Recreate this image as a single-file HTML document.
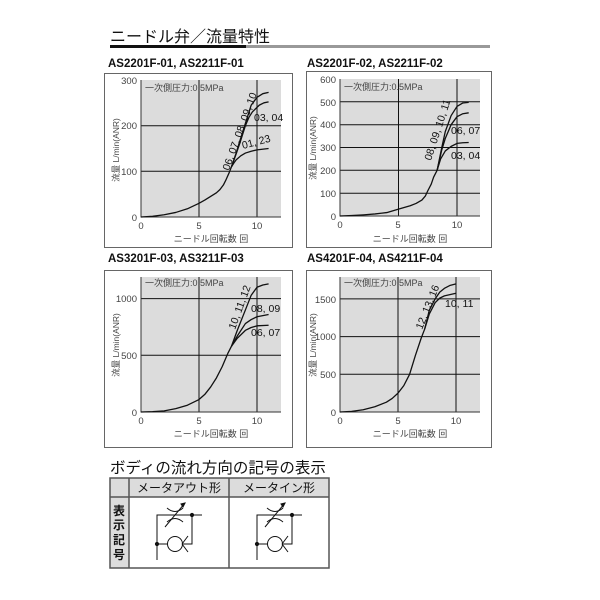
<!DOCTYPE html>
<html><head><meta charset="utf-8"><style>
html,body{margin:0;padding:0;background:#fff;}
svg{display:block;font-family:"Liberation Sans","Noto Sans CJK JP",sans-serif;}
.t{font-size:9.5px;fill:#444}
.h{font-size:11.5px;font-weight:bold;fill:#111}
.g{fill:#dcdcdc}
.gl{stroke:#111;stroke-width:1}
.c{fill:none;stroke:#111;stroke-width:1.3;vector-effect:non-scaling-stroke;stroke-linejoin:round}
.lb{font-size:10.5px;fill:#111}
.yl{font-size:8.5px;fill:#444}
</style></head><body>
<svg width="600" height="600" viewBox="0 0 600 600">
<text x="110" y="42" style="font-size:16px;fill:#111">ニードル弁／流量特性</text>
<rect x="110" y="45" width="136" height="3" fill="#111"/>
<rect x="246" y="45" width="244" height="3" fill="#999"/>

<!-- Chart 1 -->
<text x="108" y="67" class="h">AS2201F-01, AS2211F-01</text>
<rect x="104.5" y="73.5" width="188" height="174" fill="none" stroke="#666"/>
<rect x="141" y="80" width="140" height="137" class="g"/>
<line x1="199" y1="80" x2="199" y2="217" class="gl"/><line x1="257" y1="80" x2="257" y2="217" class="gl"/>
<line x1="141" y1="171.3" x2="281" y2="171.3" class="gl"/><line x1="141" y1="125.7" x2="281" y2="125.7" class="gl"/>
<polyline points="141,80 141,217 281,217" fill="none" stroke="#333"/>
<text x="137" y="84" class="t" text-anchor="end">300</text><text x="137" y="129" class="t" text-anchor="end">200</text><text x="137" y="175" class="t" text-anchor="end">100</text><text x="137" y="221" class="t" text-anchor="end">0</text>
<text x="141" y="229" class="t" text-anchor="middle">0</text><text x="199" y="229" class="t" text-anchor="middle">5</text><text x="257" y="229" class="t" text-anchor="middle">10</text>
<text x="211" y="242" class="t" text-anchor="middle" style="font-size:9px">ニードル回転数 回</text>
<text transform="translate(119,150) rotate(-90)" class="yl" text-anchor="middle">流量 L/min(ANR)</text>
<text x="145" y="91" class="t" style="font-size:9px">一次側圧力:0.5MPa</text>
<g transform="translate(141,217) scale(11.6,-0.4567)">
<polyline class="c" points="0,0 1,1.5 2,5 3,10 4,18 5,30 5.5,37 6,45 6.5,53 6.8,60 7.1,70 7.3,80 7.6,97 7.8,110 8,118 8.2,125 8.6,134 9,140 9.5,144 10,147 11,150"/>
<polyline class="c" points="7.8,110 8.2,138 8.5,160 9,200 9.3,218 9.6,230 10.2,245 10.6,250 11,252"/>
<polyline class="c" points="7.8,110 8.2,140 8.5,165 9,205 9.5,245 10,262 10.5,270 11,273"/>
</g>
<text transform="translate(229,171) rotate(-70)" class="lb">06, 07, 08, 09, 10</text>
<text x="254" y="121" class="lb">03, 04</text>
<text transform="translate(243,149) rotate(-15)" class="lb">01, 23</text>

<!-- Chart 2 -->
<text x="307" y="67" class="h">AS2201F-02, AS2211F-02</text>
<rect x="306.5" y="71.5" width="185" height="176" fill="none" stroke="#666"/>
<rect x="340" y="79" width="140" height="137" class="g"/>
<line x1="398.5" y1="79" x2="398.5" y2="216" class="gl"/><line x1="457" y1="79" x2="457" y2="216" class="gl"/>
<g class="gl"><line x1="340" y1="193.2" x2="480" y2="193.2"/><line x1="340" y1="170.3" x2="480" y2="170.3"/><line x1="340" y1="147.5" x2="480" y2="147.5"/><line x1="340" y1="124.7" x2="480" y2="124.7"/><line x1="340" y1="101.8" x2="480" y2="101.8"/></g>
<polyline points="340,79 340,216 480,216" fill="none" stroke="#333"/>
<g class="t" text-anchor="end"><text x="336" y="83">600</text><text x="336" y="106">500</text><text x="336" y="128">400</text><text x="336" y="151">300</text><text x="336" y="174">200</text><text x="336" y="197">100</text><text x="336" y="220">0</text></g>
<g class="t" text-anchor="middle"><text x="340" y="228">0</text><text x="398" y="228">5</text><text x="457" y="228">10</text></g>
<text x="410" y="242" class="t" text-anchor="middle" style="font-size:9px">ニードル回転数 回</text>
<text transform="translate(316,148) rotate(-90)" class="yl" text-anchor="middle">流量 L/min(ANR)</text>
<text x="344" y="90" class="t" style="font-size:9px">一次側圧力:0.5MPa</text>
<g transform="translate(340,216) scale(11.7,-0.2283)">
<polyline class="c" points="0,0 1,2 2,5 3,9 4,15 5,30 6,45 6.5,55 7,70 7.3,88 7.5,110 7.8,140 8,170 8.3,200 8.6,250 9,285 9.5,305 10,318 10.5,321 11,322"/>
<polyline class="c" points="8.3,200 8.7,290 9,340 9.5,400 10,435 10.5,448 11,452"/>
<polyline class="c" points="8.3,200 8.7,300 9,370 9.5,440 10,480 10.5,495 11,498"/>
</g>
<text transform="translate(431,161) rotate(-72)" class="lb">08, 09, 10, 11</text>
<text x="451" y="134" class="lb">06, 07</text>
<text x="451" y="159" class="lb">03, 04</text>

<!-- Chart 3 -->
<text x="108" y="262" class="h">AS3201F-03, AS3211F-03</text>
<rect x="104.5" y="270.5" width="188" height="177" fill="none" stroke="#666"/>
<rect x="141" y="277" width="140" height="135" class="g"/>
<line x1="199" y1="277" x2="199" y2="412" class="gl"/><line x1="257" y1="277" x2="257" y2="412" class="gl"/>
<line x1="141" y1="355.3" x2="281" y2="355.3" class="gl"/><line x1="141" y1="298.6" x2="281" y2="298.6" class="gl"/>
<polyline points="141,277 141,412 281,412" fill="none" stroke="#333"/>
<g class="t" text-anchor="end"><text x="137" y="302">1000</text><text x="137" y="359">500</text><text x="137" y="416">0</text></g>
<g class="t" text-anchor="middle"><text x="141" y="424">0</text><text x="199" y="424">5</text><text x="257" y="424">10</text></g>
<text x="211" y="437" class="t" text-anchor="middle" style="font-size:9px">ニードル回転数 回</text>
<text transform="translate(119,345) rotate(-90)" class="yl" text-anchor="middle">流量 L/min(ANR)</text>
<text x="145" y="286" class="t" style="font-size:9px">一次側圧力:0.5MPa</text>
<g transform="translate(141,412) scale(11.6,-0.1134)">
<polyline class="c" points="0,0 1,3 2,10 3,30 4,60 5,110 5.5,155 6,220 6.5,300 7,400 7.5,520 7.8,580 8.3,650 9,720 9.5,745 10,760 11,765"/>
<polyline class="c" points="7.8,580 8.3,670 9,780 9.5,815 10,840 11,860"/>
<polyline class="c" points="7.8,580 8.3,720 9,900 9.5,1030 10,1100 10.5,1120 11,1130"/>
</g>
<text transform="translate(235,330) rotate(-70)" class="lb">10, 11, 12</text>
<text x="251" y="312" class="lb">08, 09</text>
<text x="251" y="336" class="lb">06, 07</text>

<!-- Chart 4 -->
<text x="307" y="262" class="h">AS4201F-04, AS4211F-04</text>
<rect x="306.5" y="270.5" width="185" height="177" fill="none" stroke="#666"/>
<rect x="340" y="277" width="140" height="135" class="g"/>
<line x1="398" y1="277" x2="398" y2="412" class="gl"/><line x1="456" y1="277" x2="456" y2="412" class="gl"/>
<g class="gl"><line x1="340" y1="374.3" x2="480" y2="374.3"/><line x1="340" y1="336.6" x2="480" y2="336.6"/><line x1="340" y1="298.9" x2="480" y2="298.9"/></g>
<polyline points="340,277 340,412 480,412" fill="none" stroke="#333"/>
<g class="t" text-anchor="end"><text x="336" y="303">1500</text><text x="336" y="340">1000</text><text x="336" y="378">500</text><text x="336" y="416">0</text></g>
<g class="t" text-anchor="middle"><text x="340" y="424">0</text><text x="398" y="424">5</text><text x="456" y="424">10</text></g>
<text x="410" y="437" class="t" text-anchor="middle" style="font-size:9px">ニードル回転数 回</text>
<text transform="translate(316,345) rotate(-90)" class="yl" text-anchor="middle">流量 L/min(ANR)</text>
<text x="344" y="286" class="t" style="font-size:9px">一次側圧力:0.5MPa</text>
<g transform="translate(340,412) scale(11.6,-0.0754)">
<polyline class="c" points="0,0 1,8 2,30 3,70 4,130 4.5,180 5,250 5.5,350 6,500 6.5,750 7,980 7.3,1100 7.7,1300 8.2,1450 8.6,1510 9,1540 10,1575"/>
<polyline class="c" points="7.3,1100 7.7,1350 8.2,1500 8.6,1590 9,1640 9.5,1680 10,1700"/>
</g>
<text transform="translate(422,330) rotate(-68)" class="lb">12, 13, 16</text>
<text x="445" y="307" class="lb">10, 11</text>

<!-- Bottom section -->
<text x="110" y="473" style="font-size:15.5px;fill:#111">ボディの流れ方向の記号の表示</text>
<rect x="110" y="478" width="219" height="19" fill="#dcdcdc"/>
<rect x="110" y="478" width="19" height="90" fill="#dcdcdc"/>
<rect x="129" y="497" width="200" height="71" fill="#fff"/>
<g stroke="#555" stroke-width="1.5" fill="none">
<rect x="110" y="478" width="219" height="90"/>
<line x1="129" y1="478" x2="129" y2="568"/><line x1="229" y1="478" x2="229" y2="568"/><line x1="110" y1="497" x2="329" y2="497"/>
</g>
<text x="179" y="492" text-anchor="middle" style="font-size:12px;fill:#111">メータアウト形</text>
<text x="279" y="492" text-anchor="middle" style="font-size:12px;fill:#111">メータイン形</text>
<g style="font-size:12px;fill:#111;font-weight:bold" text-anchor="middle"><text x="119" y="515">表</text><text x="119" y="529">示</text><text x="119" y="544">記</text><text x="119" y="559">号</text></g>
<g id="sym" stroke="#111" stroke-width="1" fill="none">
<polyline points="157,560 157,515 202,515"/>
<polyline points="192,515 192,544 157,544"/>
<circle cx="175" cy="544" r="7.5" fill="#fff"/>
<path d="M182,544 L188,536 M182,544 L188,552"/>
<path d="M167,508 Q175,515 183,508 M167,522 Q175,515 183,522"/>
<path d="M165,527 L185,503"/>
<path d="M185,503 l-4,1 l2,3 z" fill="#111"/>
<circle cx="157" cy="544" r="1.6" fill="#111"/>
<circle cx="192" cy="515" r="1.6" fill="#111"/>
</g>
<use href="#sym" x="100"/>
</svg>
</body></html>
